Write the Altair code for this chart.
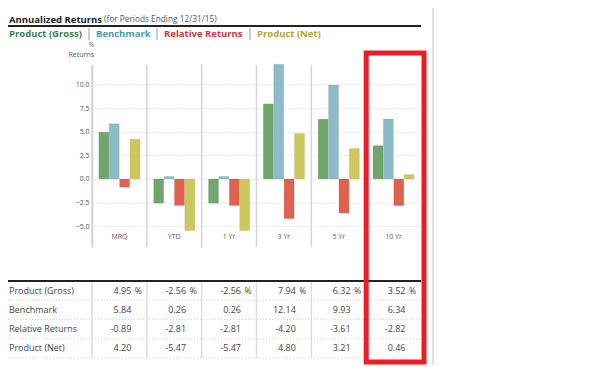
import altair as alt
import pandas as pd

FONT = "Open Sans"

categories = ["MRQ", "YTD", "1 Yr", "3 Yr", "5 Yr", "10 Yr"]
series = ["Product (Gross)", "Benchmark", "Relative Returns", "Product (Net)"]
gross = [4.95, -2.56, -2.56, 7.94, 6.32, 3.52]
bench = [5.84, 0.26, 0.26, 12.14, 9.93, 6.34]
rel = [-0.89, -2.81, -2.81, -4.20, -3.61, -2.82]
net = [4.20, -5.47, -5.47, 4.80, 3.21, 0.46]
y_ticks = [-5, -2.5, 0, 2.5, 5, 7.5, 10]

bar_colors = ["#70a56b", "#8cbac8", "#e0624e", "#cdc85e"]
text_colors = ["#3d7e4e", "#4b9aa6", "#c63b3b", "#aaa933"]

rows = []
for s, vals in zip(series, [gross, bench, rel, net]):
    for c, v in zip(categories, vals):
        rows.append({"cat": c, "series": s, "value": v, "label": f"{v:.2f}"})
df = pd.DataFrame(rows)
cat_df = pd.DataFrame({"cat": categories})
ser_df = pd.DataFrame({"series": series})

W, H = 329, 182

xscale = alt.Scale(domain=categories, paddingInner=0, paddingOuter=0)
yscale = alt.Scale(domain=[-7.2, 12.05], nice=False, zero=False)
tscale = alt.Scale(domain=series, paddingInner=0, paddingOuter=0, range=[216, 293])


def txt(t, x, y, align="left", **kw):
    return alt.Chart(pd.DataFrame({"t": [t]})).mark_text(baseline="middle", align=align, **kw).encode(
        x=alt.value(x), y=alt.value(y), text="t:N")


def hrule(x1, x2, y, **kw):
    return alt.Chart(pd.DataFrame({"a": [0]})).mark_rule(**kw).encode(
        x=alt.value(x1), x2=alt.value(x2), y=alt.value(y))


def vrule(x, y1, y2, **kw):
    return alt.Chart(pd.DataFrame({"a": [0]})).mark_rule(**kw).encode(
        x=alt.value(x), y=alt.value(y1), y2=alt.value(y2))


bars = alt.Chart(df).mark_bar(stroke="#000", strokeOpacity=0.12, strokeWidth=0.6).encode(
    x=alt.X("cat:N", scale=xscale, axis=None, sort=categories),
    xOffset=alt.XOffset("series:N", sort=series,
                        scale=alt.Scale(domain=series, paddingInner=0.04, paddingOuter=0.66)),
    y=alt.Y("value:Q", scale=yscale,
            axis=alt.Axis(values=y_ticks, format=".1f", grid=True, gridDash=[1, 2],
                          gridColor="#cfcfcf", domainColor="#cccccc", domainWidth=1.5,
                          ticks=False, labelFontSize=7, labelColor="#555555",
                          labelPadding=3, title=None, labelFont=FONT)),
    y2=alt.datum(0),
    color=alt.Color("series:N", scale=alt.Scale(domain=series, range=bar_colors), legend=None),
)

seps = alt.Chart(cat_df).mark_rule(color="#d5d5d5", strokeWidth=1.5).encode(
    x=alt.X("cat:N", scale=xscale, axis=None, bandPosition=0),
    y=alt.value(0), y2=alt.value(H))

cat_labels = alt.Chart(cat_df).mark_text(fontSize=7, color="#555555", baseline="middle").encode(
    x=alt.X("cat:N", scale=xscale, axis=None, bandPosition=0.5),
    y=alt.value(172), text="cat:N")

header = [
    txt("Annualized Returns", -83, -45, fontSize=9.5, fontWeight="bold", color="#222222"),
    txt("(for Periods Ending 12/31/15)", 12, -45, fontSize=8.3, color="#555555"),
    hrule(-84, W, -39, color="#222222", strokeWidth=2),
    txt(series[0], -83, -31, fontSize=9.5, fontWeight="bold", color=text_colors[0]),
    vrule(-3, -37, -25, color="#bbbbbb", strokeWidth=1.5),
    txt(series[1], 4, -31, fontSize=9.5, fontWeight="bold", color=text_colors[1]),
    vrule(65, -37, -25, color="#bbbbbb", strokeWidth=1.5),
    txt(series[2], 72, -31, fontSize=9.5, fontWeight="bold", color=text_colors[2]),
    vrule(158, -37, -25, color="#bbbbbb", strokeWidth=1.5),
    txt(series[3], 165, -31, fontSize=9.5, fontWeight="bold", color=text_colors[3]),
    txt("%", 2, -20, align="right", fontSize=6.5, color="#555555"),
    txt("Returns", 2, -10, align="right", fontSize=7, color="#555555"),
    vrule(341, -57, 300, color="#e3e3e3", strokeWidth=2),
]

main = alt.layer(seps, bars, cat_labels, *header)

# table
t_y = alt.Y("series:N", scale=tscale, axis=None, sort=series)
t_x_end = alt.X("cat:N", scale=xscale, axis=None, bandPosition=1)

t_vals = alt.Chart(df).mark_text(align="right", baseline="middle", dx=-15.5, fontSize=9,
                                 color="#444444").encode(x=t_x_end, y=t_y, text="label:N")
t_pct = alt.Chart(df[df["series"] == series[0]]).mark_text(
    align="right", baseline="middle", dx=-5, fontSize=8.5, color="#444444").encode(
    x=t_x_end, y=t_y, text=alt.value("%"))
t_rows = alt.Chart(ser_df).mark_text(align="left", baseline="middle", fontSize=9,
                                     color="#444444").encode(
    x=alt.value(-83), y=t_y, text="series:N")
t_hsep = alt.Chart(ser_df).mark_rule(color="#d0d0d0", strokeDash=[1, 2]).encode(
    y=alt.Y("series:N", scale=tscale, axis=None, sort=series, bandPosition=1),
    x=alt.value(-84), x2=alt.value(W))
t_vsep = alt.Chart(cat_df).mark_rule(color="#dddddd", strokeWidth=1.5).encode(
    x=alt.X("cat:N", scale=xscale, axis=None, bandPosition=0),
    y=alt.value(216), y2=alt.value(293))
t_top = hrule(-84, W, 216, color="#222222", strokeWidth=2)

red_box = alt.Chart(pd.DataFrame({"cat": [categories[-1]]})).mark_rect(
    fill=None, filled=False, stroke="#ee1c25", strokeWidth=5).encode(
    x=alt.X("cat:N", scale=xscale, axis=None, bandPosition=0),
    x2=alt.value(W + 3),
    y=alt.value(-12), y2=alt.value(297))

table = alt.layer(t_hsep, t_vsep, t_top, t_rows, t_vals, t_pct)

chart = alt.layer(main, table, red_box).resolve_scale(y="independent").properties(
    width=W, height=H,
    padding={"left": 84, "top": 57, "right": 100, "bottom": 118},
    autosize=alt.AutoSizeParams(type="none"),
).configure_view(stroke=None).configure_text(font=FONT)

chart.save("out.html", embed_options={"renderer": "svg", "actions": False})
